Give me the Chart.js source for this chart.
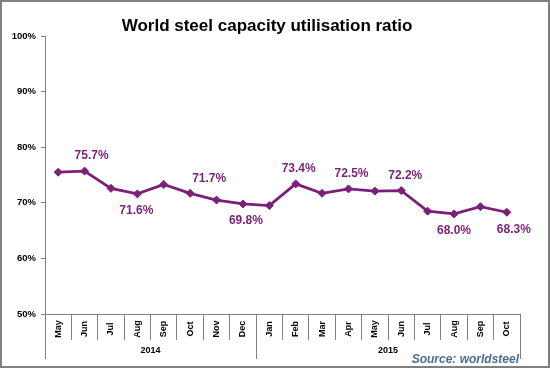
<!DOCTYPE html>
<html>
<head>
<meta charset="utf-8">
<script src="https://cdn.jsdelivr.net/npm/chart.js@4/dist/chart.umd.min.js"></script>
<style>
  body { margin: 0; background: #fff; }
  #wrap { width: 550px; height: 368px; box-sizing: border-box; border: 2px solid #7f7f7f; }
  canvas { display: block; }
</style>
</head>
<body>
<div id="wrap"><canvas id="steelChart" width="546" height="364"></canvas></div>
<script>
// months from May 2014 to Oct 2015
const months = ['May', 'Jun', 'Jul', 'Aug', 'Sep', 'Oct', 'Nov', 'Dec',
                'Jan', 'Feb', 'Mar', 'Apr', 'May', 'Jun', 'Jul', 'Aug', 'Sep', 'Oct'];
const years = ['2014', '2015'];
const yearSpans = [8, 10]; // number of months under each year
const ratio = [75.5, 75.7, 72.6, 71.6, 73.3, 71.7, 70.5, 69.8, 69.5,
               73.4, 71.7, 72.5, 72.1, 72.2, 68.5, 68.0, 69.3, 68.3];
// which points get a value label, and on which side
const labelSide = [null, 'up', null, 'down', null, 'up', null, 'down', null,
                   'up', null, 'up', null, 'up', null, 'down', null, 'down'];
const labelNudge = [0, 7, 0, -1, 0, 19, 0, 3, 0, 3, 0, 3, 0, 4, 0, 0, 0, 7];

const purple = '#7b1f7b';
const fontFam = "'Liberation Sans', Arial, sans-serif";

const extras = {
    id: 'extras',
    afterDraw(chart) {
        const ctx = chart.ctx;
        const xs = chart.scales.x;
        const ys = chart.scales.y;
        const half = (xs.getPixelForValue(1) - xs.getPixelForValue(0)) / 2;
        const axisY = chart.chartArea.bottom;
        ctx.save();

        // title
        ctx.fillStyle = '#000';
        ctx.font = 'bold 17px ' + fontFam;
        ctx.textAlign = 'center';
        ctx.textBaseline = 'middle';
        ctx.fillText('World steel capacity utilisation ratio', 265, 24);

        // month labels, rotated
        ctx.font = 'bold 9px ' + fontFam;
        months.forEach((m, i) => {
            ctx.save();
            ctx.translate(xs.getPixelForValue(i), axisY + 15);
            ctx.rotate(-Math.PI / 2);
            ctx.fillText(m, 0, 0);
            ctx.restore();
        });

        // year groups
        ctx.strokeStyle = '#808080';
        ctx.lineWidth = 1;
        let start = 0;
        const edges = [xs.getPixelForValue(0) - half];
        yearSpans.forEach((n, k) => {
            const x0 = xs.getPixelForValue(start) - half;
            const x1 = xs.getPixelForValue(start + n - 1) + half;
            edges.push(x1);
            ctx.fillText(years[k], (x0 + x1) / 2, axisY + 37);
            start += n;
        });
        edges.forEach(x => {
            const px = Math.round(x) + 0.5;
            ctx.beginPath();
            ctx.moveTo(px, axisY);
            ctx.lineTo(px, axisY + 45);
            ctx.stroke();
        });

        // value labels
        ctx.fillStyle = purple;
        ctx.font = 'bold 12px ' + fontFam;
        ratio.forEach((v, i) => {
            if (!labelSide[i]) return;
            const x = xs.getPixelForValue(i) + labelNudge[i];
            const y = ys.getPixelForValue(v) + (labelSide[i] === 'up' ? -15 : 17);
            ctx.fillText(v.toFixed(1) + '%', x, y);
        });

        // source note
        ctx.fillStyle = '#4a6f96';
        ctx.font = 'italic bold 12px ' + fontFam;
        ctx.textAlign = 'right';
        ctx.fillText('Source: worldsteel', 517, 358);
        ctx.restore();
    }
};

new Chart(document.getElementById('steelChart'), {
    type: 'line',
    data: {
        labels: months,
        datasets: [{
            data: ratio,
            borderColor: purple,
            backgroundColor: purple,
            borderWidth: 2.8,
            pointStyle: 'rectRot',
            pointRadius: 4,
            pointBorderWidth: 1,
            tension: 0
        }]
    },
    options: {
        responsive: false,
        animation: false,
        layout: { padding: { top: 34, right: 28, left: 0, bottom: 0 } },
        plugins: { legend: { display: false }, tooltip: { enabled: false } },
        scales: {
            x: {
                offset: true,
                afterFit: s => { s.height = 52; },
                ticks: { display: false },
                grid: { offset: true, drawOnChartArea: false, tickLength: 26, color: '#808080' },
                border: { color: '#808080' }
            },
            y: {
                min: 50,
                max: 100,
                afterFit: s => { s.width = 43; },
                ticks: {
                    stepSize: 10,
                    padding: 5,
                    color: '#000',
                    font: { family: fontFam, size: 9.5, weight: 'bold' },
                    callback: v => v + '%'
                },
                grid: { drawOnChartArea: false, tickLength: 4, color: '#808080' },
                border: { color: '#808080' }
            }
        }
    },
    plugins: [extras]
});
</script>
</body>
</html>
